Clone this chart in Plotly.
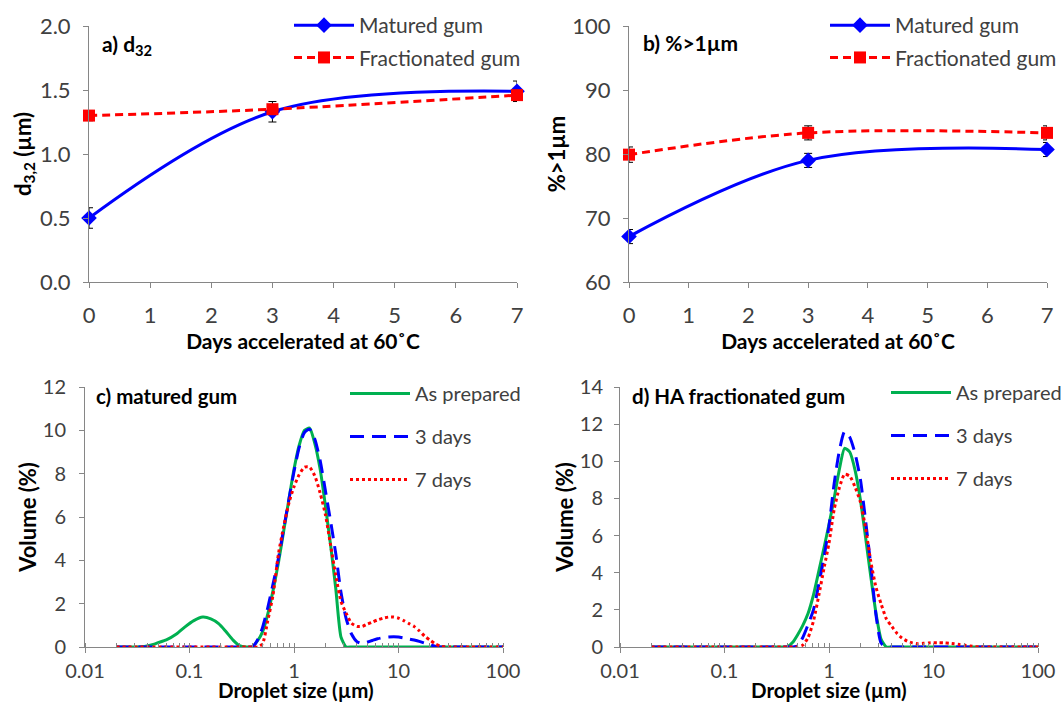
import plotly.graph_objects as go

# ---------------- data ----------------
days = [0, 3, 7]
d32_matured = [0.50, 1.33, 1.49]
d32_matured_err = [0.08, 0.08, 0.08]
d32_fract = [1.30, 1.35, 1.46]
d32_fract_err = [0.04, 0.03, 0.03]

pct_matured = [67.1, 79.0, 80.7]
pct_matured_err = [1.1, 1.1, 1.1]
pct_fract = [79.9, 83.3, 83.3]
pct_fract_err = [1.2, 1.1, 1.1]

sizes = [0.02, 0.03, 0.037, 0.045, 0.05, 0.06, 0.075, 0.09, 0.11, 0.134,
         0.16, 0.19, 0.22, 0.26, 0.3, 0.35, 0.4, 0.45, 0.5, 0.56,
         0.63, 0.71, 0.8, 0.9, 1.0, 1.12, 1.26, 1.41, 1.58, 1.78,
         2.0, 2.24, 2.51, 2.82, 3.16, 3.55, 4.0, 4.5, 5.0, 5.6,
         6.3, 7.1, 8.0, 9.0, 10, 11.2, 12.6, 14.1, 15.8, 17.8,
         20, 22.4, 25.1, 28.2, 35, 50, 70, 100]

c_prepared = [0, 0, 0.02, 0.12, 0.2, 0.33, 0.6, 0.92, 1.22, 1.38,
              1.3, 1.08, 0.75, 0.33, 0.06, 0.0, 0.02, 0.3, 0.7, 1.5,
              2.6, 3.9, 5.4, 6.9, 8.2, 9.3, 10.0, 10.1, 9.4, 8.2,
              6.5, 4.7, 2.7, 0.45, 0.0, 0, 0, 0, 0, 0,
              0, 0, 0, 0, 0, 0, 0, 0, 0, 0,
              0, 0, 0, 0, 0, 0, 0, 0]
c_3days = [0, 0, 0, 0, 0, 0, 0, 0, 0, 0,
           0, 0, 0, 0, 0, 0, 0, 0.35, 0.9, 1.8,
           2.9, 4.1, 5.5, 6.9, 8.1, 9.2, 9.9, 10.05, 9.6, 8.6,
           7.2, 5.8, 4.3, 2.5, 1.3, 0.6, 0.25, 0.15, 0.22, 0.3,
           0.38, 0.43, 0.46, 0.47, 0.46, 0.42, 0.37, 0.32, 0.26, 0.18,
           0.1, 0.04, 0, 0, 0, 0, 0, 0]
c_7days = [0, 0, 0, 0, 0, 0, 0, 0, 0, 0,
           0, 0, 0, 0, 0, 0, 0, 0, 0.15, 1.2,
           2.4, 4.3, 5.6, 6.7, 7.4, 7.95, 8.3, 8.3, 7.9, 7.1,
           6.1, 4.7, 3.3, 2.1, 1.55, 1.1, 0.95, 0.95, 1.05, 1.15,
           1.25, 1.33, 1.38, 1.38, 1.33, 1.22, 1.08, 0.95, 0.75, 0.5,
           0.32, 0.15, 0.05, 0, 0, 0, 0, 0]

d_prepared = [0, 0, 0, 0, 0, 0, 0, 0, 0, 0,
              0, 0, 0, 0, 0, 0, 0.02, 0.25, 0.65, 1.15,
              1.8, 2.8, 4.1, 5.4, 6.6, 8.0, 9.6, 10.7, 10.5, 9.5,
              7.9, 5.9, 3.8, 1.8, 0.4, 0, 0, 0, 0, 0,
              0, 0, 0, 0, 0, 0, 0, 0, 0, 0,
              0, 0, 0, 0, 0, 0, 0, 0]
d_3days = [0, 0, 0, 0, 0, 0, 0, 0, 0, 0,
           0, 0, 0, 0, 0, 0, 0, 0, 0.05, 0.5,
           1.2, 2.0, 3.4, 4.9, 6.5, 8.8, 10.6, 11.6, 11.3, 10.4,
           9.0, 6.8, 4.4, 1.7, 0.2, 0, 0, 0, 0, 0,
           0, 0, 0, 0, 0, 0, 0, 0, 0, 0,
           0, 0, 0, 0, 0, 0, 0, 0]
d_7days = [0, 0, 0, 0, 0, 0, 0, 0, 0, 0,
           0, 0, 0, 0, 0, 0, 0, 0, 0, 0.1,
           0.5, 1.4, 2.8, 4.3, 5.6, 7.4, 8.6, 9.3, 9.2, 8.6,
           7.8, 6.4, 4.6, 3.2, 2.3, 1.5, 1.1, 0.72, 0.48, 0.32,
           0.22, 0.18, 0.2, 0.22, 0.23, 0.23, 0.22, 0.2, 0.17, 0.13,
           0.09, 0.05, 0.02, 0, 0, 0, 0, 0]

size_ticks = [0.01, 0.1, 1, 10, 100]
size_ticktext = ["0.01", "0.1", "1", "10", "100"]

# ---------------- styling ----------------
FONT = "Lato"
TICKCOL = "#404040"
AXCOL = "#868686"
BLUE = "#0000FF"
RED = "#FF0000"
GREEN = "#00B050"

W, H = 1061, 704


def dx(a, b):
    return [a / W, b / W]


def dy(top, bottom):
    return [1 - bottom / H, 1 - top / H]


fig = go.Figure()

err = lambda arr: dict(type="data", array=arr, color="black", thickness=1, width=4)

# panel a
fig.add_trace(go.Scatter(x=days, y=d32_matured, error_y=err(d32_matured_err), mode="lines+markers",
                         line=dict(color=BLUE, width=3, shape="spline"),
                         marker=dict(symbol="diamond", size=12, color=BLUE),
                         name="Matured gum", xaxis="x", yaxis="y", legend="legend",
                         legendgroup="a1", cliponaxis=False))
fig.add_trace(go.Scatter(x=days, y=d32_fract, error_y=err(d32_fract_err), mode="lines+markers",
                         line=dict(color=RED, width=3, shape="spline", dash="8px,5px"),
                         marker=dict(symbol="square", size=12, color=RED),
                         name="Fractionated gum", xaxis="x", yaxis="y", legend="legend",
                         legendgroup="a2", cliponaxis=False))
# panel b
fig.add_trace(go.Scatter(x=days, y=pct_matured, error_y=err(pct_matured_err), mode="lines+markers",
                         line=dict(color=BLUE, width=3, shape="spline"),
                         marker=dict(symbol="diamond", size=12, color=BLUE),
                         name="Matured gum", xaxis="x2", yaxis="y2", legend="legend2",
                         legendgroup="b1", cliponaxis=False))
fig.add_trace(go.Scatter(x=days, y=pct_fract, error_y=err(pct_fract_err), mode="lines+markers",
                         line=dict(color=RED, width=3, shape="spline", dash="8px,5px"),
                         marker=dict(symbol="square", size=12, color=RED),
                         name="Fractionated gum", xaxis="x2", yaxis="y2", legend="legend2",
                         legendgroup="b2", cliponaxis=False))

# panels c, d
for (xa, ya, lg, ser) in [("x3", "y3", "legend3", [c_prepared, c_3days, c_7days]),
                          ("x4", "y4", "legend4", [d_prepared, d_3days, d_7days])]:
    names = ["As prepared", "3 days", "7 days"]
    styles = [dict(color=GREEN, width=3), dict(color=BLUE, width=3, dash="14px,8px"),
              dict(color=RED, width=3, dash="3px,3px")]
    for i, (vals, nm, st) in enumerate(zip(ser, names, styles)):
        st = dict(st, shape="spline", smoothing=0.6)
        fig.add_trace(go.Scatter(x=sizes, y=vals, mode="lines", line=st, name=nm,
                                 xaxis=xa, yaxis=ya, legend=lg, legendgroup=lg + str(i),
                                 cliponaxis=False))

tickfont = dict(family=FONT, size=22, color=TICKCOL)
tickfont2 = dict(family=FONT, size=20, color=TICKCOL)
xtitlefont = dict(family=FONT, size=21, color="black")
ytitlefont = dict(family=FONT, size=22, color="black")

common = dict(showline=True, linecolor=AXCOL, linewidth=1, ticks="outside", tickcolor=AXCOL,
              ticklen=5, showgrid=False, zeroline=False, automargin=False)

fig.update_layout(
    width=W, height=H, margin=dict(l=0, r=0, t=0, b=0, autoexpand=False),
    paper_bgcolor="white", plot_bgcolor="white",
    font=dict(family=FONT, color=TICKCOL),
    xaxis=dict(common, domain=dx(89, 517), range=[0, 7], dtick=1, anchor="y", tickfont=tickfont,
               ticklabelstandoff=9,
               title=dict(text="<b>Days accelerated at 60˚C</b>", font=xtitlefont, standoff=0)),
    yaxis=dict(common, domain=dy(26, 282), range=[0, 2], dtick=0.5, tickformat=".1f", anchor="x",
               tickfont=tickfont, ticklabelstandoff=8,
               title=dict(text="<b>d<sub>3,2</sub> (µm)</b>", font=ytitlefont, standoff=2)),
    xaxis2=dict(common, domain=dx(629, 1047), range=[0, 7], dtick=1, anchor="y2", tickfont=tickfont,
                ticklabelstandoff=9,
                title=dict(text="<b>Days accelerated at 60˚C</b>", font=xtitlefont, standoff=0)),
    yaxis2=dict(common, domain=dy(26, 282), range=[60, 100], dtick=10, anchor="x2",
                tickfont=tickfont, ticklabelstandoff=8,
                title=dict(text="<b>%>1µm</b>", font=ytitlefont, standoff=0)),
    xaxis3=dict(common, domain=dx(85, 503), type="log", range=[-2, 2], tickmode="array",
                tickvals=size_ticks, ticktext=size_ticktext, anchor="y3", tickfont=tickfont2,
                ticklabelstandoff=1,
                minor=dict(ticks="inside", ticklen=4, tickcolor=AXCOL, dtick="D1", showgrid=False)),
    yaxis3=dict(common, domain=dy(387, 647), range=[0, 12], dtick=2, anchor="x3",
                tickfont=tickfont2, ticklabelstandoff=9,
                title=dict(text="<b>Volume (%)</b>", font=ytitlefont, standoff=0)),
    xaxis4=dict(common, domain=dx(620, 1038), type="log", range=[-2, 2], tickmode="array",
                tickvals=size_ticks, ticktext=size_ticktext, anchor="y4", tickfont=tickfont2,
                ticklabelstandoff=1,
                minor=dict(ticks="inside", ticklen=4, tickcolor=AXCOL, dtick="D1", showgrid=False)),
    yaxis4=dict(common, domain=dy(387, 647), range=[0, 14], dtick=2, anchor="x4",
                tickfont=tickfont2, ticklabelstandoff=7,
                title=dict(text="<b>Volume (%)</b>", font=ytitlefont, standoff=0)),
)

legfont = dict(family=FONT, size=21, color=TICKCOL)
legcommon = dict(xanchor="left", yanchor="top", bgcolor="rgba(0,0,0,0)", font=legfont,
                 traceorder="grouped", tracegroupgap=2, itemwidth=60)
fig.update_layout(
    legend=dict(legcommon, x=289 / W, y=1 - 5 / H),
    legend2=dict(legcommon, x=825 / W, y=1 - 5 / H),
    legend3=dict(legcommon, x=345 / W, y=1 - 374 / H, tracegroupgap=14,
                 font=dict(legfont, size=20)),
    legend4=dict(legcommon, x=886 / W, y=1 - 373 / H, tracegroupgap=14,
                 font=dict(legfont, size=20)),
)

ann = dict(showarrow=False, xref="paper", yref="paper", xanchor="left", yanchor="middle",
           font=dict(family=FONT, size=21, color="black"))
fig.add_annotation(ann, x=100 / W, y=1 - 45 / H, text="<b>a) d<sub>32</sub></b>")
fig.add_annotation(ann, x=641 / W, y=1 - 42 / H, text="<b>b) %>1µm</b>")
fig.add_annotation(ann, x=94 / W, y=1 - 396 / H, text="<b>c) matured gum</b>", font_size=20.5)
fig.add_annotation(ann, x=630 / W, y=1 - 396 / H, text="<b>d) HA fractionated gum</b>", font_size=20.5)
# x-axis titles of the size-distribution panels (sit tight under the tick labels)
xt = dict(showarrow=False, xref="paper", yref="paper", xanchor="center", yanchor="bottom",
          font=dict(family=FONT, size=20.5, color="black"))
fig.add_annotation(xt, x=296 / W, y=0, text="<b>Droplet size (µm)</b>")
fig.add_annotation(xt, x=829 / W, y=0, text="<b>Droplet size (µm)</b>")

fig.write_html("out.html", config={"displayModeBar": False},
               post_script="document.body.style.margin='0';")
